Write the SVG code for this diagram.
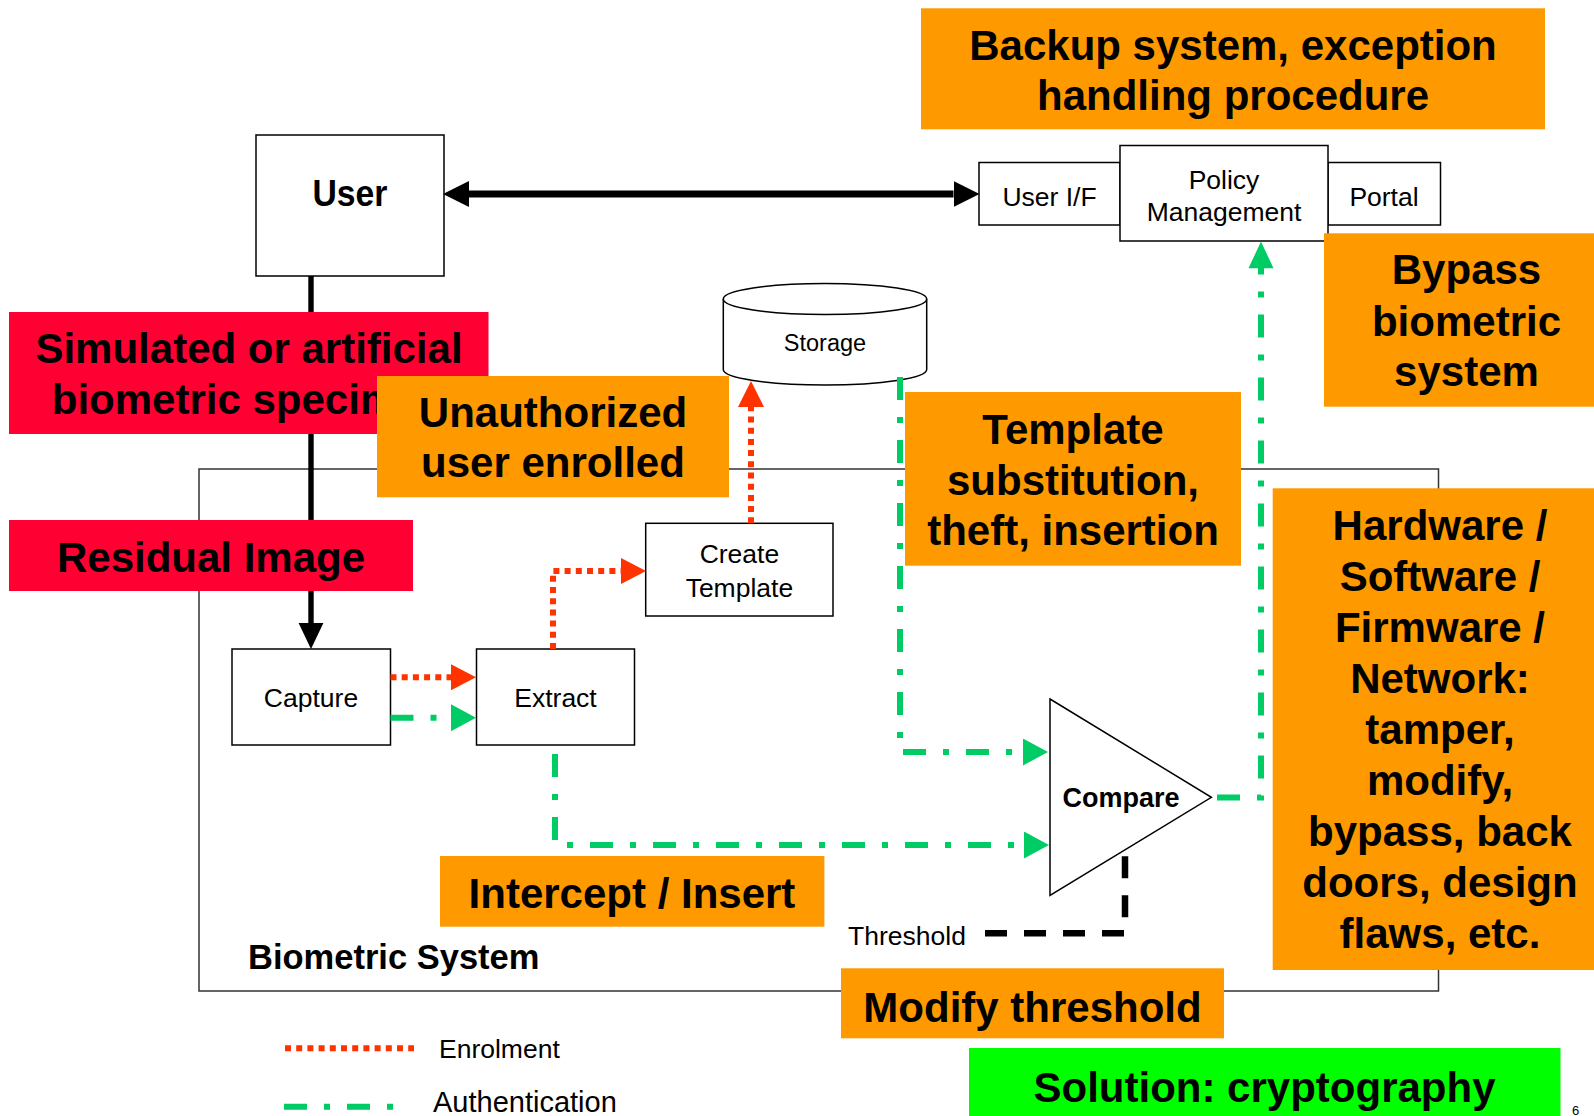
<svg xmlns="http://www.w3.org/2000/svg" width="1594" height="1116" viewBox="0 0 1594 1116">
<style>
text{font-family:"Liberation Sans",Arial,sans-serif;fill:#000}
.n{fill:#fff;stroke:#000;stroke-width:1.5}
.t{font-size:26.5px;text-anchor:middle}
.b{font-size:42px;font-weight:bold;text-anchor:middle}
.or{fill:#ff9900}
.rd{fill:#ff0033}
.en{fill:none;stroke:#ff3300;stroke-width:6;stroke-dasharray:6 5.2}
.au{fill:none;stroke:#00cc66;stroke-width:6;stroke-dasharray:23 17 6 17}
</style>
<defs>
<marker id="ar" viewBox="0 0 25 26" markerWidth="25" markerHeight="26" refX="0" refY="13" orient="auto" markerUnits="userSpaceOnUse"><path d="M0,0 L25,13 L0,26 z" fill="#ff3300"/></marker>
<marker id="ag" viewBox="0 0 25 27" markerWidth="25" markerHeight="27" refX="0" refY="13.5" orient="auto" markerUnits="userSpaceOnUse"><path d="M0,0 L25,13.5 L0,27 z" fill="#00cc66"/></marker>
<marker id="ab" viewBox="0 0 26 26" markerWidth="26" markerHeight="26" refX="0" refY="13" orient="auto-start-reverse" markerUnits="userSpaceOnUse"><path d="M0,0 L26,13 L0,26 z" fill="#000"/></marker>
</defs>
<rect width="1594" height="1116" fill="#fff"/>

<g id="biometric-system">
<rect x="199" y="469" width="1239.5" height="522" fill="none" stroke="#333" stroke-width="1.5"/>
<text x="248" y="969" style="font-size:34.5px;font-weight:bold">Biometric System</text>
</g>

<g id="user"><rect class="n" x="256" y="135" width="188" height="141"/><text x="350" y="206" text-anchor="middle" textLength="75" lengthAdjust="spacingAndGlyphs" style="font-size:37px;font-weight:bold">User</text></g>
<g id="user-if"><rect class="n" x="979" y="162.5" width="141" height="62.5"/><text class="t" x="1049.5" y="206">User I/F</text></g>
<g id="portal"><rect class="n" x="1328" y="162.5" width="112.5" height="62.5"/><text class="t" x="1384" y="206">Portal</text></g>
<g id="policy-management"><rect class="n" x="1120" y="145.5" width="208" height="95.5"/><text class="t" x="1224" y="189">Policy</text><text class="t" x="1224" y="221">Management</text></g>
<g id="storage">
<path class="n" d="M723.3,299 V369.5 A101.7,15.5 0 0 0 926.7,369.5 V299"/>
<ellipse class="n" cx="825" cy="299" rx="101.7" ry="15.5"/>
<text x="825" y="351" text-anchor="middle" style="font-size:23.5px">Storage</text>
</g>
<g id="capture"><rect class="n" x="232" y="649" width="158.5" height="96"/><text class="t" x="311" y="707">Capture</text></g>
<g id="extract"><rect class="n" x="476.5" y="649" width="158" height="96"/><text class="t" x="555.5" y="707">Extract</text></g>
<g id="create-template"><rect class="n" x="645.7" y="523.3" width="187.3" height="92.7"/><text class="t" x="739.4" y="563">Create</text><text class="t" x="739.4" y="596.5">Template</text></g>
<g id="compare"><path class="n" d="M1050,699 L1211.4,797.3 L1050,895.3 z"/><text x="1121" y="806.5" text-anchor="middle" style="font-size:27px;font-weight:bold">Compare</text></g>
<g id="threshold"><text class="t" x="907" y="945">Threshold</text></g>

<g id="connectors">
<path d="M469,194 H953.5" stroke="#000" stroke-width="7" fill="none" marker-start="url(#ab)" marker-end="url(#ab)"/>
<path d="M311,276 V623.5" stroke="#000" stroke-width="5.4" fill="none"/>
<path d="M298.6,623 L323.4,623 L311,649 z" fill="#000"/>
<path class="en" d="M390.5,677.3 H451" marker-end="url(#ar)"/>
<path class="en" d="M553,649 V571 H621" marker-end="url(#ar)"/>
<path class="en" d="M751,523.3 V406"/>
<path d="M738,407 L764,407 L751,381 z" fill="#ff3300"/>
<path class="au" d="M390.5,717.7 H451" marker-end="url(#ag)"/>
<path class="au" d="M555,754 V845 H1024" marker-end="url(#ag)"/>
<path class="au" d="M900,377 V752 H1023" marker-end="url(#ag)"/>
<path class="au" d="M1217,797.5 H1261 V268"/>
<path d="M1248.5,268.3 L1273.5,268.3 L1261,241.5 z" fill="#00cc66"/>
<path d="M985,933.3 H1125 V849" fill="none" stroke="#000" stroke-width="6.5" stroke-dasharray="22 17"/>
</g>

<g id="threat-simulated"><rect class="rd" x="9" y="312" width="479.5" height="122"/><text class="b" x="249" y="363">Simulated or artificial</text><text class="b" x="249" y="414">biometric specimen</text></g>
<g id="threat-residual"><rect class="rd" x="9" y="520" width="404" height="71"/><text class="b" x="211" y="572">Residual Image</text></g>
<g id="threat-unauthorized"><rect class="or" x="377" y="376" width="352" height="121.3"/><text class="b" x="553" y="427">Unauthorized</text><text class="b" x="553" y="477">user enrolled</text></g>
<g id="threat-backup"><rect class="or" x="921" y="8.3" width="624" height="121"/><text class="b" x="1233" y="60">Backup system, exception</text><text class="b" x="1233" y="110">handling procedure</text></g>
<g id="threat-bypass"><rect class="or" x="1324" y="233.3" width="270" height="173.4"/><text class="b" x="1466.5" y="284">Bypass</text><text class="b" x="1466.5" y="335.5">biometric</text><text class="b" x="1466.5" y="386">system</text></g>
<g id="threat-template"><rect class="or" x="905" y="392" width="336" height="173.7"/><text class="b" x="1073" y="443.5">Template</text><text class="b" x="1073" y="494.5">substitution,</text><text class="b" x="1073" y="545">theft, insertion</text></g>
<g id="threat-hardware"><rect class="or" x="1272.7" y="488.3" width="321.3" height="481.7"/>
<text class="b" x="1440" y="540">Hardware /</text><text class="b" x="1440" y="591">Software /</text><text class="b" x="1440" y="642">Firmware /</text><text class="b" x="1440" y="693">Network:</text><text class="b" x="1440" y="744">tamper,</text><text class="b" x="1440" y="795">modify,</text><text class="b" x="1440" y="846">bypass, back</text><text class="b" x="1440" y="897">doors, design</text><text class="b" x="1440" y="948">flaws, etc.</text></g>
<g id="threat-intercept"><rect class="or" x="440" y="856" width="384.4" height="70.7"/><text class="b" x="632" y="908">Intercept / Insert</text></g>
<g id="threat-threshold"><rect class="or" x="841" y="968.3" width="383" height="70"/><text class="b" x="1032.5" y="1022">Modify threshold</text></g>
<g id="solution"><rect x="969" y="1048" width="591.5" height="68" fill="#00ff00"/><text class="b" x="1264.5" y="1102">Solution: cryptography</text></g>

<g id="legend">
<path class="en" d="M285,1048.3 H414"/>
<text x="439" y="1058" style="font-size:26.5px">Enrolment</text>
<path class="au" d="M284,1106.7 H395"/>
<text x="433" y="1112" style="font-size:29px">Authentication</text>
</g>
<text x="1572" y="1115" style="font-size:13px">6</text>
</svg>
